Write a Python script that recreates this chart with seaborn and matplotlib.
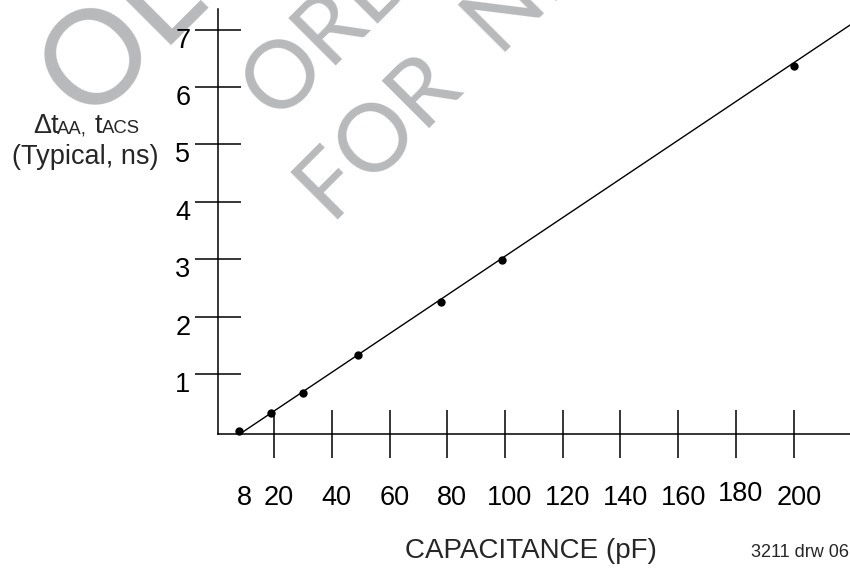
import matplotlib
matplotlib.use('Agg')
import matplotlib.pyplot as plt
import seaborn as sns
from matplotlib.transforms import ScaledTranslation

# values
cap_pf = [8, 19, 30, 49, 78, 99, 200]
delay_ns = [0, 0.32, 0.67, 1.33, 2.25, 2.99, 6.36]
# straight fit drawn through the points, running out to the right edge
trend_pf = [8, 219.5]
trend_ns = [-0.05, 7.08]
x_ticks = [8, 20, 40, 60, 80, 100, 120, 140, 160, 180, 200]
x_labels = ['8', '20', '40', '60', '80', '100', '120', '140', '160', '180', '200']
y_ticks = [1, 2, 3, 4, 5, 6, 7]

sns.set_style('white')
plt.rcParams['font.family'] = ['Liberation Sans', 'DejaVu Sans']

W, H = 850, 573
fig = plt.figure(figsize=(8.5, 5.73), dpi=100)

def px(x, y):
    return x / W, 1 - y / H

# grey watermark behind the chart
wm = '#b8b9bb'
wm_font = dict(rotation=45, rotation_mode='anchor', ha='left', va='baseline', color=wm,
               family=['Lato', 'DejaVu Sans'], zorder=-5)
fig.text(*px(88, 122), 'OLD', fontsize=94, **wm_font)
fig.text(*px(276, 121), 'ORDER', fontsize=68, **wm_font)
fig.text(*px(332, 225), 'FOR  NEW', fontsize=68, **wm_font)

left = 218.3 / W
bottom = 1 - 433.7 / H
top = 1 - 9 / H
ax = fig.add_axes([left, bottom, 1 - left, top - bottom])
ax.set_facecolor('none')

sns.lineplot(x=trend_pf, y=trend_ns, color='black', linewidth=1.0, ax=ax)
sns.scatterplot(x=cap_pf, y=delay_ns, color='black', s=36, linewidth=0, ax=ax,
                zorder=3, clip_on=False)

ax.set_xlim(0.7, 219.5)
ax.set_ylim(-0.04, 7.36)
for s in ['top', 'right']:
    ax.spines[s].set_visible(False)
for s in ['left', 'bottom']:
    ax.spines[s].set_color('black')
    ax.spines[s].set_linewidth(1.1)

ax.set_xticks(x_ticks)
ax.set_xticklabels(x_labels)
ax.set_yticks(y_ticks)
ax.tick_params(axis='x', bottom=True, direction='inout', length=34.5, width=1.1, pad=20,
               labelsize=19.5, colors='black')
ax.tick_params(axis='y', left=True, direction='inout', length=33, width=1.1, pad=3.6,
               labelsize=19.5, colors='black')
ax.set_xlabel('')
ax.set_ylabel('')

# the 8 pF label has no tick mark
xt = ax.xaxis.get_major_ticks()
xt[0].tick1line.set_visible(False)
for t, lab in zip(xt, x_labels):
    dy = 0.04 if lab == '180' else 0
    t.label1.set_transform(t.label1.get_transform() + ScaledTranslation(0.05, dy, fig.dpi_scale_trans))
for t in ax.yaxis.get_major_ticks():
    t.label1.set_transform(t.label1.get_transform() + ScaledTranslation(0, -0.08, fig.dpi_scale_trans))

# y axis caption, big/small letter pieces
fig.text(*px(33, 133), '\u0394t', fontsize=19.5, ha='left', va='baseline')
fig.text(*px(57, 133), 'AA,', fontsize=13.3, ha='left', va='baseline')
fig.text(*px(95, 133), 't', fontsize=19.5, ha='left', va='baseline')
fig.text(*px(102, 133), 'ACS', fontsize=13.3, ha='left', va='baseline')
fig.text(*px(85, 164), '(Typical, ns)', fontsize=19.5, ha='center', va='baseline')

fig.text(*px(531, 558), 'CAPACITANCE (pF)', fontsize=20, ha='center', va='baseline')
fig.text(*px(849, 557), '3211 drw 06', fontsize=13, ha='right', va='baseline')

fig.savefig('out.png', dpi=100)
